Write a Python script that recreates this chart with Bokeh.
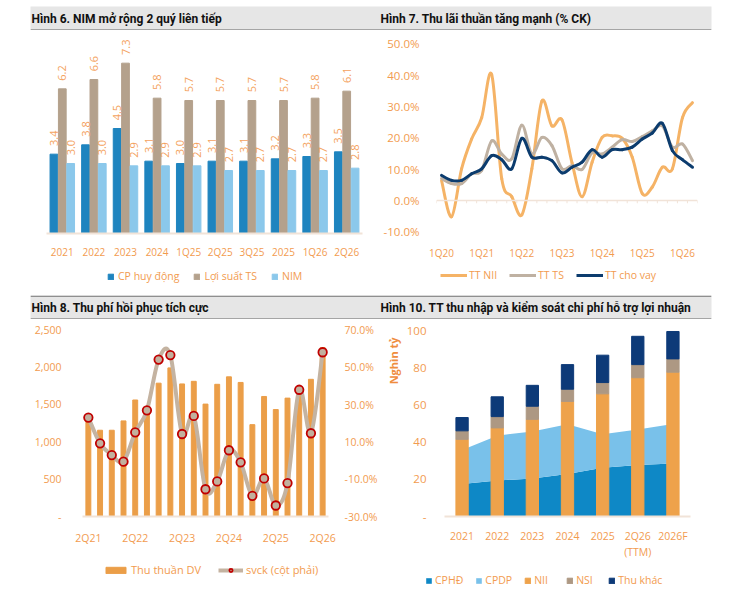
import numpy as np
from bokeh.plotting import figure
from bokeh.models import (Range1d, LinearAxis, FixedTicker, PrintfTickFormatter,
                          NumeralTickFormatter, Legend, LegendItem, Span, Title,
                          ColumnDataSource)
from bokeh.layouts import column, row
from bokeh.embed import file_html
from bokeh.resources import INLINE
from bokeh.core.properties import value

# ---------------- data ----------------
# Hình 6
nim_cats = ["2021", "2022", "2023", "2024", "1Q25", "2Q25", "3Q25", "2025", "1Q26", "2Q26"]
cp_huy_dong = [3.4, 3.8, 4.5, 3.1, 3.0, 3.1, 3.1, 3.2, 3.3, 3.5]
loi_suat_ts = [6.2, 6.6, 7.3, 5.8, 5.7, 5.7, 5.7, 5.7, 5.8, 6.1]
nim = [3.0, 3.0, 2.9, 2.9, 2.9, 2.7, 2.7, 2.7, 2.7, 2.8]

# Hình 7 (1Q20 .. 2Q26)
q7_labels = ["1Q20", "1Q21", "1Q22", "1Q23", "1Q24", "1Q25", "1Q26"]
tt_nii = [6.4, -5.2, 10.1, 19.6, 26.4, 40.1, 6.9, 1.2, -4.6, 10.1, 31.7, 23.8, 25.7,
          12.0, 1.2, 12.2, 20.1, 20.6, 19.8, 13.8, 2.2, 4.3, 10.6, 10.1, 26.4, 31.2]
tt_ts = [7.0, 5.4, 5.4, 8.5, 9.6, 19.0, 14.8, 13.3, 24.0, 14.8, 20.1, 17.5, 10.1,
         11.1, 9.9, 15.2, 14.8, 17.0, 19.4, 18.8, 20.4, 22.2, 23.8, 17.0, 18.0, 12.7]
tt_cho_vay = [8.0, 6.4, 6.4, 8.5, 10.1, 14.3, 13.0, 10.1, 19.8, 13.8, 13.8, 12.7, 8.8,
              10.6, 12.2, 16.2, 13.8, 16.2, 16.2, 17.0, 19.6, 21.5, 24.6, 15.9, 13.0, 10.6]
y7_ticks = [-10, 0, 10, 20, 30, 40, 50]

# Hình 8 (2Q21 .. 2Q26)
q8_labels = ["2Q21", "2Q22", "2Q23", "2Q24", "2Q25", "2Q26"]
thu_thuan_dv = [1300, 1155, 1155, 1280, 1560, 1420, 1785, 1990, 1775, 1810, 1505,
                1770, 1870, 1795, 1230, 1607, 1432, 1585, 1720, 1837, 2262]
svck = [23.0, 9.2, 2.9, -0.6, 15.1, 26.9, 54.1, 56.5, 14.2, 23.9, -15.4,
        -11.2, 5.5, -1.0, -18.9, -9.6, -24.1, -12.1, 37.9, 14.6, 58.0]
y8_left_ticks = [0, 500, 1000, 1500, 2000, 2500]
y8_right_ticks = [-30, -10, 10, 30, 50, 70]

# Hình 10
cats10 = ["2021", "2022", "2023", "2024", "2025", "2Q26\n(TTM)", "2026F"]
cphd = [17.5, 19.4, 20.6, 23.0, 26.3, 27.9, 28.6]
cpdp = [18.5, 24.3, 25.4, 26.8, 18.2, 19.1, 21.4]
nii = [41.7, 47.9, 52.5, 62.2, 66.3, 75.0, 78.0]
nsi = [4.6, 6.1, 7.1, 6.6, 6.1, 7.1, 7.2]
thu_khac = [7.2, 10.7, 11.3, 13.3, 14.8, 15.3, 14.8]
y10_ticks = [0, 20, 40, 60, 80, 100]

titles_top = ["Hình 6. NIM mở rộng 2 quý liên tiếp", "Hình 7. Thu lãi thuần tăng mạnh (% CK)"]
titles_bottom = ["Hình 8. Thu phí hồi phục tích cực",
                 "Hình 10. TT thu nhập và kiểm soát chi phí hỗ trợ lợi nhuận"]

# ---------------- styles ----------------
ORANGE = "#f29b4f"
FONT = "Open Sans"
AXLINE = "#f1e3d8"
C_CP, C_TS, C_NIM = "#1e84bf", "#b4a18c", "#8bc8eb"
C_NII7, C_TS7, C_VAY7 = "#f5b366", "#bfb1a2", "#0c3c6e"
C_DV, C_SV = "#eb9e48", "#c4b3a1"
C_CPHD, C_CPDP, C_NII, C_NSI, C_KHAC = "#0e88c6", "#79c1ea", "#eea24b", "#ad9883", "#0d3a78"
NAN = [float("nan")]


def smooth_ctrl(x, y):
    x = np.asarray(x, float)
    y = np.asarray(y, float)
    xp = np.concatenate([[x[0]], x, [x[-1]]])
    yp = np.concatenate([[y[0]], y, [y[-1]]])
    n = len(x)
    x0, x1 = x[:-1], x[1:]
    y0, y1 = y[:-1], y[1:]
    cx0 = x0 + (x1 - xp[0:n - 1]) / 6.0
    cy0 = y0 + (y1 - yp[0:n - 1]) / 6.0
    cx1 = x1 - (xp[3:n + 2] - x0) / 6.0
    cy1 = y1 - (yp[3:n + 2] - y0) / 6.0
    return dict(x0=x0, y0=y0, x1=x1, y1=y1, cx0=cx0, cy0=cy0, cx1=cx1, cy1=cy1)


def plain(p, bg="white"):
    p.outline_line_color = None
    p.xgrid.visible = False
    p.ygrid.visible = False
    p.background_fill_color = bg
    p.border_fill_color = "white"
    return p


def base_fig(width, height, xr, yr, ml, mr, mt, mb, yaxis=True):
    kw = dict(width=width, height=height, x_range=xr, y_range=yr,
              output_backend="svg", toolbar_location=None,
              min_border_left=ml, min_border_right=mr,
              min_border_top=mt, min_border_bottom=mb)
    if not yaxis:
        kw["y_axis_location"] = None
    return plain(figure(**kw))


def blank_fig(width, height, ml=0, mr=0, mt=0, mb=0, bg="white", yr=(0, 1), xr=(0, 1)):
    p = figure(width=width, height=height, x_range=Range1d(*xr), y_range=Range1d(*yr),
               output_backend="svg", toolbar_location=None,
               min_border_left=ml, min_border_right=mr, min_border_top=mt, min_border_bottom=mb,
               x_axis_location=None, y_axis_location=None)
    return plain(p, bg)


def style_axis(ax, size="10px", standoff=6, line=False):
    ax.major_label_text_font = FONT
    ax.major_label_text_font_size = size
    ax.major_label_text_color = ORANGE
    ax.major_label_standoff = standoff
    ax.major_tick_line_color = None
    ax.minor_tick_line_color = None
    if line:
        ax.axis_line_color = AXLINE
        ax.axis_line_width = 2
    else:
        ax.axis_line_color = None


def legend_strip(width, height, vx, vy, entries, gw, gh, standoff, spacing, size="10.5px"):
    s = blank_fig(width, height)
    items = []
    for label, kinds in entries:
        rs = []
        for kind, kw in kinds:
            if kind == "bar":
                rs.append(s.vbar(x=NAN, top=NAN, width=0.1, **kw))
            elif kind == "area":
                rs.append(s.varea(x=NAN, y1=NAN, y2=NAN, **kw))
            elif kind == "line":
                rs.append(s.line(x=NAN, y=NAN, **kw))
            elif kind == "dot":
                rs.append(s.scatter(x=NAN, y=NAN, **kw))
        items.append(LegendItem(label=label, renderers=rs, index=0))
    lg = Legend(items=items, location=(vx, vy), orientation="horizontal",
                glyph_width=gw, glyph_height=gh, label_standoff=standoff,
                spacing=spacing, padding=0, margin=0, border_line_color=None,
                background_fill_alpha=0, label_text_font=FONT,
                label_text_font_size=size, label_text_color=ORANGE,
                label_height=12)
    s.add_layout(lg)
    return s


def header(texts, height, mt, lines):
    fh = height - mt
    h = blank_fig(743, height, ml=30, mr=32, mt=mt, bg="#e6e6e6", xr=(0, 681), yr=(0, fh))
    h.text(x=[1, 350], y=[fh / 2.0] * 2, text=texts, text_font=value("Roboto"),
           text_font_style="bold", text_font_size="12px", text_color="#111111",
           text_baseline="middle", text_align="left")
    for loc in lines:
        h.add_layout(Span(location=loc, dimension="width", line_color="#8f8f8f", line_width=1.5))
    return h


# ---------------- Hình 6 ----------------
x6 = np.arange(len(nim_cats))
p1 = base_fig(380, 232, Range1d(-0.5, 9.5), Range1d(0, 8.40), 46, 18, 7, 27, yaxis=False)
off, bw = 0.265, 0.245
p1.vbar(x=x6 - off, top=cp_huy_dong, width=bw, color=C_CP)
p1.vbar(x=x6, top=loi_suat_ts, width=bw, color=C_TS)
p1.vbar(x=x6 + off, top=nim, width=bw, color=C_NIM)
for dx, vals in ((-off, cp_huy_dong), (0, loi_suat_ts), (off, nim)):
    p1.text(x=x6 + dx, y=np.asarray(vals) + 0.35, text=[f"{v:.1f}" for v in vals],
            angle=np.pi / 2, text_align="left", text_baseline="middle",
            text_font=value(FONT), text_font_size="11px", text_color="#f4a25e")
p1.xaxis.ticker = FixedTicker(ticks=list(x6))
p1.xaxis.major_label_overrides = {int(i): c for i, c in zip(x6, nim_cats)}
style_axis(p1.xaxis[0], standoff=5, line=True)

# ---------------- Hình 7 ----------------
x7 = np.arange(len(tt_nii))
p2 = base_fig(363, 232, Range1d(-0.5, len(x7) - 0.5), Range1d(-10.54, 51.98), 51, 46, 7, 27)
p2.add_layout(Span(location=0, dimension="width", line_color=AXLINE, line_width=1.5))
bnd = np.arange(len(x7) + 1) - 0.5
p2.segment(x0=bnd, y0=np.zeros(len(bnd)), x1=bnd, y1=np.full(len(bnd), -0.9),
           line_color=AXLINE, line_width=1)
p2.bezier(**smooth_ctrl(x7, tt_nii), line_color=C_NII7, line_width=3, line_cap="round")
p2.bezier(**smooth_ctrl(x7, tt_ts), line_color=C_TS7, line_width=3, line_cap="round")
p2.bezier(**smooth_ctrl(x7, tt_cho_vay), line_color=C_VAY7, line_width=3, line_cap="round")
p2.yaxis.ticker = FixedTicker(ticks=y7_ticks)
p2.yaxis.formatter = PrintfTickFormatter(format="%.1f%%")
style_axis(p2.yaxis[0], size="11.5px", standoff=11)
p2.xaxis.ticker = FixedTicker(ticks=list(range(0, len(x7), 4)))
p2.xaxis.major_label_overrides = {i * 4: l for i, l in enumerate(q7_labels)}
style_axis(p2.xaxis[0], standoff=6)

# ---------------- Hình 8 ----------------
x8 = np.arange(len(thu_thuan_dv))
p3 = base_fig(380, 242, Range1d(-0.5, len(x8) - 0.5), Range1d(0, 2544), 82, 47, 7, 34)
p3.extra_y_ranges = {"pct": Range1d(-30, 71.8)}
p3.vbar(x=x8, top=thu_thuan_dv, width=0.42, color=C_DV)
p3.bezier(**smooth_ctrl(x8, svck), line_color=C_SV, line_width=4,
          line_cap="round", y_range_name="pct")
p3.scatter(x=x8, y=svck, size=8.5, fill_color="#c2b09e", line_color="#c00000",
           line_width=1.8, y_range_name="pct")
p3.yaxis.ticker = FixedTicker(ticks=y8_left_ticks)
p3.yaxis.formatter = NumeralTickFormatter(format="0,0")
p3.yaxis.major_label_overrides = {0: "-"}
style_axis(p3.yaxis[0], size="10.5px", standoff=15)
rax = LinearAxis(y_range_name="pct", ticker=FixedTicker(ticks=y8_right_ticks),
                 formatter=PrintfTickFormatter(format="%.1f%%"))
style_axis(rax, size="10.5px", standoff=10)
p3.add_layout(rax, "right")
p3.xaxis.ticker = FixedTicker(ticks=list(range(0, len(x8), 4)))
p3.xaxis.major_label_overrides = {i * 4: l for i, l in enumerate(q8_labels)}
style_axis(p3.xaxis[0], size="10.5px", standoff=8, line=True)

# ---------------- Hình 10 ----------------
x10 = np.arange(len(cats10))
src10 = ColumnDataSource(dict(x=x10, cphd=cphd, cpdp=cpdp, nii=nii, nsi=nsi, khac=thu_khac))
p4 = base_fig(363, 242, Range1d(-0.5, len(x10) - 0.5), Range1d(0, 102.7), 62, 53, 7, 34)
p4.varea_stack(["cphd", "cpdp"], x="x", source=src10, color=[C_CPHD, C_CPDP])
p4.vbar_stack(["nii", "nsi", "khac"], x="x", width=0.35, source=src10,
              color=[C_NII, C_NSI, C_KHAC])
p4.yaxis.ticker = FixedTicker(ticks=y10_ticks)
p4.yaxis.major_label_overrides = {0: "-"}
style_axis(p4.yaxis[0], size="11.5px", standoff=12)
p4.add_layout(Title(text="Nghìn tỷ", align="right", offset=11, standoff=6,
                    text_font=FONT, text_font_style="bold", text_font_size="11px",
                    text_color="#ef8d3e"), "left")
p4.xaxis.ticker = FixedTicker(ticks=list(x10))
p4.xaxis.major_label_overrides = {int(i): c for i, c in zip(x10, cats10)}
style_axis(p4.xaxis[0], size="10.5px", standoff=6, line=True)
p4.xaxis.major_label_text_line_height = 1.15

# ---------------- legends ----------------
leg1 = legend_strip(380, 28, 107, 7, [
    ("CP huy động", [("bar", dict(color=C_CP))]),
    ("Lợi suất TS", [("bar", dict(color=C_TS))]),
    ("NIM", [("bar", dict(color=C_NIM))])], 7, 7, 4, 14)
leg2 = legend_strip(363, 28, 60, 8, [
    ("TT NII", [("line", dict(line_color=C_NII7, line_width=3))]),
    ("TT TS", [("line", dict(line_color=C_TS7, line_width=3))]),
    ("TT cho vay", [("line", dict(line_color=C_VAY7, line_width=3))])], 27, 12, 2, 12)
leg3 = legend_strip(380, 33, 103, 17, [
    ("Thu thuần DV", [("bar", dict(color=C_DV))]),
    ("svck (cột phải)", [("line", dict(line_color=C_SV, line_width=4)),
                         ("dot", dict(size=8, fill_color="#c2b09e", line_color="#c00000",
                                      line_width=1.8))])], 25, 8, 3, 17, size="11px")
leg4 = legend_strip(363, 33, 45, 7, [
    ("CPHĐ", [("area", dict(color=C_CPHD))]),
    ("CPDP", [("area", dict(color=C_CPDP))]),
    ("NII", [("bar", dict(color=C_NII))]),
    ("NSI", [("bar", dict(color=C_NSI))]),
    ("Thu khác", [("bar", dict(color=C_KHAC))])], 7, 7, 3, 12)

# ---------------- headers & layout ----------------
h_top = header(titles_top, 30, 6, [0.5])
h_bot = header(titles_bottom, 29, 5, [0.5, 23.3])
footer = blank_fig(743, 2, ml=30, mr=32, bg="#8f8f8f")

layout = column(h_top, row(p1, p2), row(leg1, leg2), h_bot,
                row(p3, p4), row(leg3, leg4), footer)

open("out.html", "w").write(file_html(layout, INLINE))
